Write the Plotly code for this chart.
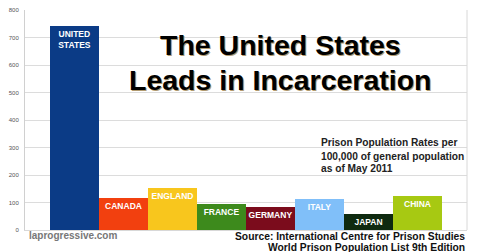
import plotly.graph_objects as go

countries = ["UNITED STATES", "CANADA", "ENGLAND", "FRANCE", "GERMANY", "ITALY", "JAPAN", "CHINA"]
bar_labels = ["UNITED<br>STATES", "CANADA", "ENGLAND", "FRANCE", "GERMANY", "ITALY", "JAPAN", "CHINA"]
rates = [743, 117, 154, 96, 85, 111, 60, 122]
colors = ["#0b3b86", "#f2400f", "#f8c61d", "#3d8a1c", "#7b0c1c", "#80bff9", "#0f2a10", "#a7c912"]
tick_vals = [0, 100, 200, 300, 400, 500, 600, 700, 800]

FONT = "Liberation Sans, Arial, sans-serif"

fig = go.Figure()
fig.add_trace(go.Bar(
    x=list(range(len(countries))),
    y=rates,
    marker=dict(color=colors, line=dict(width=0)),
    text=bar_labels,
    textposition="inside",
    insidetextanchor="end",
    textangle=0,
    constraintext="none",
    textfont=dict(family=FONT, size=8.5, color="white", weight="bold"),
    hoverinfo="skip",
))

fig.update_layout(
    width=480, height=252,
    margin=dict(l=25, r=13, t=7, b=22),
    paper_bgcolor="white", plot_bgcolor="white",
    bargap=0,
    showlegend=False,
    xaxis=dict(range=[-1, 8], showticklabels=False, showgrid=False, zeroline=False,
               showline=True, linecolor="#d8d8d8", linewidth=1, mirror=False, ticks=""),
    yaxis=dict(range=[0, 800], tickvals=tick_vals, showgrid=True, gridcolor="#dcdcdc",
               gridwidth=1, zeroline=False, showline=True, linecolor="#d0d0d0",
               tickfont=dict(family=FONT, size=6, color="#555555"), ticks="",
               ticklabelstandoff=4),
    shapes=[dict(type="line", xref="paper", yref="paper", x0=1, x1=1, y0=0, y1=1,
                 line=dict(color="#d8d8d8", width=1))],
)


def px(x):
    return (x - 25) / 442


def py(y):
    return 1 - (y - 7) / 223


title_lines = ["The United States", "Leads in Incarceration"]
title_y = [42, 78]
for txt, yy in zip(title_lines, title_y):
    for dx, dy, col in [(1.3, 1.3, "#b09a70"), (0, 0, "black")]:
        fig.add_annotation(text=txt, xref="paper", yref="paper",
                           x=px(280 + dx), y=py(yy + dy),
                           xanchor="center", yanchor="middle", showarrow=False,
                           font=dict(family=FONT, size=28.5, color=col, weight="bold"))

note_lines = ["Prison Population Rates per", "100,000 of general population", "as of May 2011"]
note_y = [141, 155, 168]
for txt, yy in zip(note_lines, note_y):
    fig.add_annotation(text=txt, xref="paper", yref="paper", x=px(319), y=py(yy),
                       xanchor="left", yanchor="middle", showarrow=False,
                       font=dict(family=FONT, size=10.2, color="#222222", weight="bold"))

fig.add_annotation(text="laprogressive.com", xref="paper", yref="paper",
                   x=px(27), y=py(236), xanchor="left", yanchor="middle",
                   showarrow=False, font=dict(family=FONT, size=10, color="#777777", weight="bold"))

source_lines = ["Source: International Centre for Prison Studies", "World Prison Population List 9th Edition"]
source_y = [237, 248]
for txt, yy in zip(source_lines, source_y):
    fig.add_annotation(text=txt, xref="paper", yref="paper", x=px(467), y=py(yy),
                       xanchor="right", yanchor="middle", showarrow=False,
                       font=dict(family=FONT, size=10.3, color="#111111", weight="bold"))

fig.write_html("out.html")
